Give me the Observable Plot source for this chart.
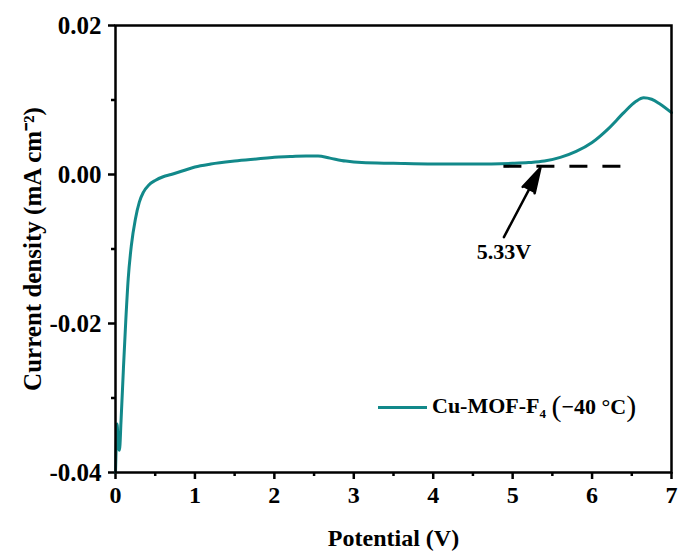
<!DOCTYPE html>
<html>
<head>
<meta charset="utf-8">
<script src="https://cdn.jsdelivr.net/npm/d3@7"></script>
<script src="https://cdn.jsdelivr.net/npm/@observablehq/plot@0.6"></script>
<style>
  body { margin: 0; background: white; }
  #wrap { position: relative; width: 679px; height: 552px; }
  #legend { position: absolute; left: 378px; top: 392px; font-family: 'Liberation Serif', 'Times New Roman', serif; font-weight: bold; font-size: 22px; color: black; display: flex; align-items: center; white-space: nowrap; }
  #legend .sw { width: 49px; height: 3px; background: #12898a; margin-right: 5px; }
  #legend sub { font-size: 13px; vertical-align: -5px; }
  #legend .par { font-size: 30px; font-weight: normal; line-height: 1; position: relative; top: -1px; }
</style>
</head>
<body>
<div id="wrap"></div>
<script>
// Potential (V)
const potential = [0, 0.01, 0.02, 0.035, 0.05, 0.07, 0.1, 0.13, 0.16, 0.2, 0.25, 0.3, 0.35, 0.42, 0.5, 0.6, 0.7, 0.85, 1.0, 1.2, 1.5, 1.8, 2.0, 2.2, 2.4, 2.55, 2.7, 2.9, 3.1, 3.5, 4.0, 4.5, 5.0, 5.2, 5.4, 5.6, 5.8, 6.0, 6.2, 6.4, 6.55, 6.65, 6.75, 6.85, 7.0];
// Current density (mA cm^-2)
const current = [-0.0400, -0.0360, -0.0335, -0.0365, -0.0370, -0.0330, -0.0260, -0.0195, -0.0140, -0.0095, -0.0060, -0.0037, -0.0024, -0.0014, -0.0008, -0.0003, 0.0000, 0.0005, 0.0010, 0.0014, 0.0018, 0.0021, 0.0023, 0.0024, 0.0025, 0.0025, 0.0022, 0.0018, 0.0016, 0.0015, 0.0014, 0.0014, 0.0015, 0.0016, 0.0018, 0.0023, 0.0031, 0.0043, 0.0061, 0.0083, 0.0098, 0.0103, 0.0101, 0.0095, 0.0083];

const xTicks = [0, 1, 2, 3, 4, 5, 6, 7];
const xMinorTicks = [0.5, 1.5, 2.5, 3.5, 4.5, 5.5, 6.5];
const yTicks = [-0.04, -0.02, 0, 0.02];
const yTickLabels = ["-0.04", "-0.02", "0.00", "0.02"];
const yMinorTicks = [-0.03, -0.01, 0.01];

// onset annotation
const onsetLine = [{x1: 4.89, x2: 6.38, y: 0.0011}];
const onsetArrow = [{x1: 4.89, y1: -0.0084, x2: 5.35, y2: 0.0009}];
const onsetLabel = [{x: 4.89, y: -0.0104, text: "5.33V"}];

const seriesName = "Cu-MOF-F";
const data = potential.map((p, i) => ({p, c: current[i]}));

const chart = Plot.plot({
  width: 679,
  height: 552,
  marginLeft: 115,
  marginRight: 8,
  marginTop: 25,
  marginBottom: 80,
  x: {domain: [0, 7]},
  y: {domain: [-0.04, 0.02]},
  style: {fontFamily: "'Liberation Serif', 'Times New Roman', serif", fontSize: "24px", fontWeight: "bold", background: "white", color: "black"},
  marks: [
    Plot.axisX(xTicks, {tickSize: 7, tickPadding: 6, strokeWidth: 2.5, tickFormat: d => String(d), label: "Potential (V)", labelAnchor: "center", labelArrow: "none", labelOffset: 73}),
    Plot.axisX(xMinorTicks, {tickSize: 4, strokeWidth: 2.5, tickFormat: () => "", label: null}),
    Plot.axisY(yTicks, {tickSize: 7, tickPadding: 7, strokeWidth: 2.5, tickFormat: d => yTickLabels[yTicks.indexOf(d)], label: "Current density (mA cm\u207B\u00B2)", labelAnchor: "center", labelArrow: "none", labelOffset: 92, fontSize: 25}),
    Plot.axisY(yMinorTicks, {tickSize: 4, strokeWidth: 2.5, tickFormat: () => "", label: null}),
    Plot.line(data, {x: "p", y: "c", stroke: "#12898a", strokeWidth: 3, curve: "monotone-x"}),
    Plot.ruleY(onsetLine, {x1: "x1", x2: "x2", y: "y", stroke: "black", strokeWidth: 3, strokeDasharray: "18,15"}),
    Plot.arrow(onsetArrow, {x1: "x1", y1: "y1", x2: "x2", y2: "y2", stroke: "black", fill: "black", strokeWidth: 2.5, headLength: 19, headAngle: 30}),
    Plot.text(onsetLabel, {x: "x", y: "y", text: "text", fontSize: 22, fontWeight: "bold", fill: "black"}),
    Plot.frame({stroke: "black", strokeWidth: 2.5})
  ]
});

const wrap = document.getElementById("wrap");
wrap.appendChild(chart);
const legend = document.createElement("div");
legend.id = "legend";
legend.innerHTML = `<span class="sw"></span><span>${seriesName}<sub>4</sub></span>&nbsp;<span class="par">(</span><span>\u221240 \u00B0C</span><span class="par">)</span>`;
wrap.appendChild(legend);
</script>
</body>
</html>
